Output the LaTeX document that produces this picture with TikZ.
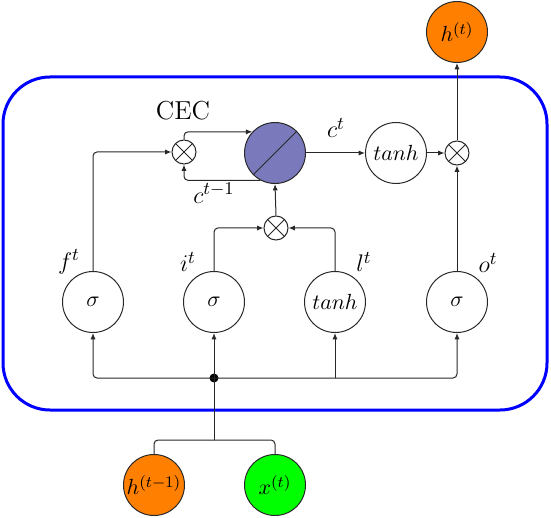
\documentclass[tikz,border=0pt]{standalone}
\usetikzlibrary{arrows.meta}
\definecolor{cecfill}{RGB}{121,121,187}
\definecolor{lineclr}{RGB}{40,40,40}
\begin{document}
\begin{tikzpicture}[x=0.5pt,y=-0.5pt,
  unit/.style={circle,draw=lineclr,line width=0.5pt,minimum size=30.5pt,inner sep=0pt,fill=white,font=\fontsize{11}{13}\selectfont},
  mult/.style={circle,draw=lineclr,line width=0.5pt,minimum size=12pt,inner sep=0pt,fill=white,
    path picture={\draw[lineclr,line width=0.5pt] (path picture bounding box.north west)--(path picture bounding box.south east)
      (path picture bounding box.north east)--(path picture bounding box.south west);}},
  cecunit/.style={circle,draw=lineclr,line width=0.5pt,minimum size=30.5pt,inner sep=0pt,fill=cecfill,
    path picture={\draw[lineclr,line width=0.5pt] (path picture bounding box.south west)--(path picture bounding box.north east);}},
  lbl/.style={font=\fontsize{13}{15}\selectfont,inner sep=0pt},
  arr/.style={-{Latex[length=3.2pt,width=2.6pt]},lineclr,line width=0.5pt,rounded corners=2pt},
  wire/.style={lineclr,line width=0.5pt,rounded corners=2pt},
  cellbox/.style={draw=blue,line width=1.5pt,rounded corners=23.5pt}
]
\useasboundingbox (0,0) rectangle (551,518);
\draw[cellbox] (3,77) rectangle (547,410);

\node[unit,fill={rgb,255:red,255;green,128;blue,0}] (hout) at (457,32) {$h^{(t)}$};
\node[mult] (mf) at (184,152) {};
\node[cecunit] (cec) at (275,153) {};
\node[unit] (tanhc) at (396,153) {$tanh$};
\node[mult] (mo) at (457,153) {};
\node[mult] (mi) at (276,228) {};
\node[unit] (sf) at (93,302) {$\sigma$};
\node[unit] (si) at (214,302) {$\sigma$};
\node[unit] (tl) at (335,302) {$tanh$};
\node[unit] (so) at (457,302) {$\sigma$};
\node[circle,fill=black,inner sep=0pt,minimum size=4.5pt] (dot) at (214,378) {};
\coordinate (branch) at (214,440);
\node[unit,fill={rgb,255:red,255;green,128;blue,0}] (hin) at (154,485) {$h^{(t-1)}$};
\node[unit,fill={rgb,255:red,0;green,255;blue,0}] (xin) at (275,485) {$x^{(t)}$};

\node[lbl] (lcec) at (183,111) {CEC};
\node[lbl] (lct) at (336,128) {$c^t$};
\node[lbl] (lct1) at (214,193) {$c^{t-1}$};
\node[lbl] (lf) at (69,262) {$f^t$};
\node[lbl] (li) at (188,262) {$i^t$};
\node[lbl] (ll) at (364,262) {$l^t$};
\node[lbl] (lo) at (488,263) {$o^t$};

\draw[arr] (sf.north) |- (mf.west);
\draw[arr] (mf.north) |- (cec.137);
\draw[arr] (cec.242) -| (mf.south);
\draw[arr] (mi.north) -- (cec.south);
\draw[arr] (si.north) |- (mi.west);
\draw[arr] (tl.north) |- (mi.east);
\draw[arr] (cec.east) -- (tanhc.west);
\draw[arr] (tanhc.east) -- (mo.west);
\draw[arr] (so.north) -- (mo.south);
\draw[arr] (mo.north) -- (hout.south);

\draw[arr] (dot.center) -| (sf.south);
\draw[arr] (dot.center) -| (so.south);
\draw[arr] (dot.center) -- (si.south);
\draw[arr] (tl.south |- dot.center) -- (tl.south);
\draw[wire] (dot.center) -- (branch);
\draw[wire] (branch) -| (hin.north);
\draw[wire] (branch) -| (xin.north);
\end{tikzpicture}
\end{document}
